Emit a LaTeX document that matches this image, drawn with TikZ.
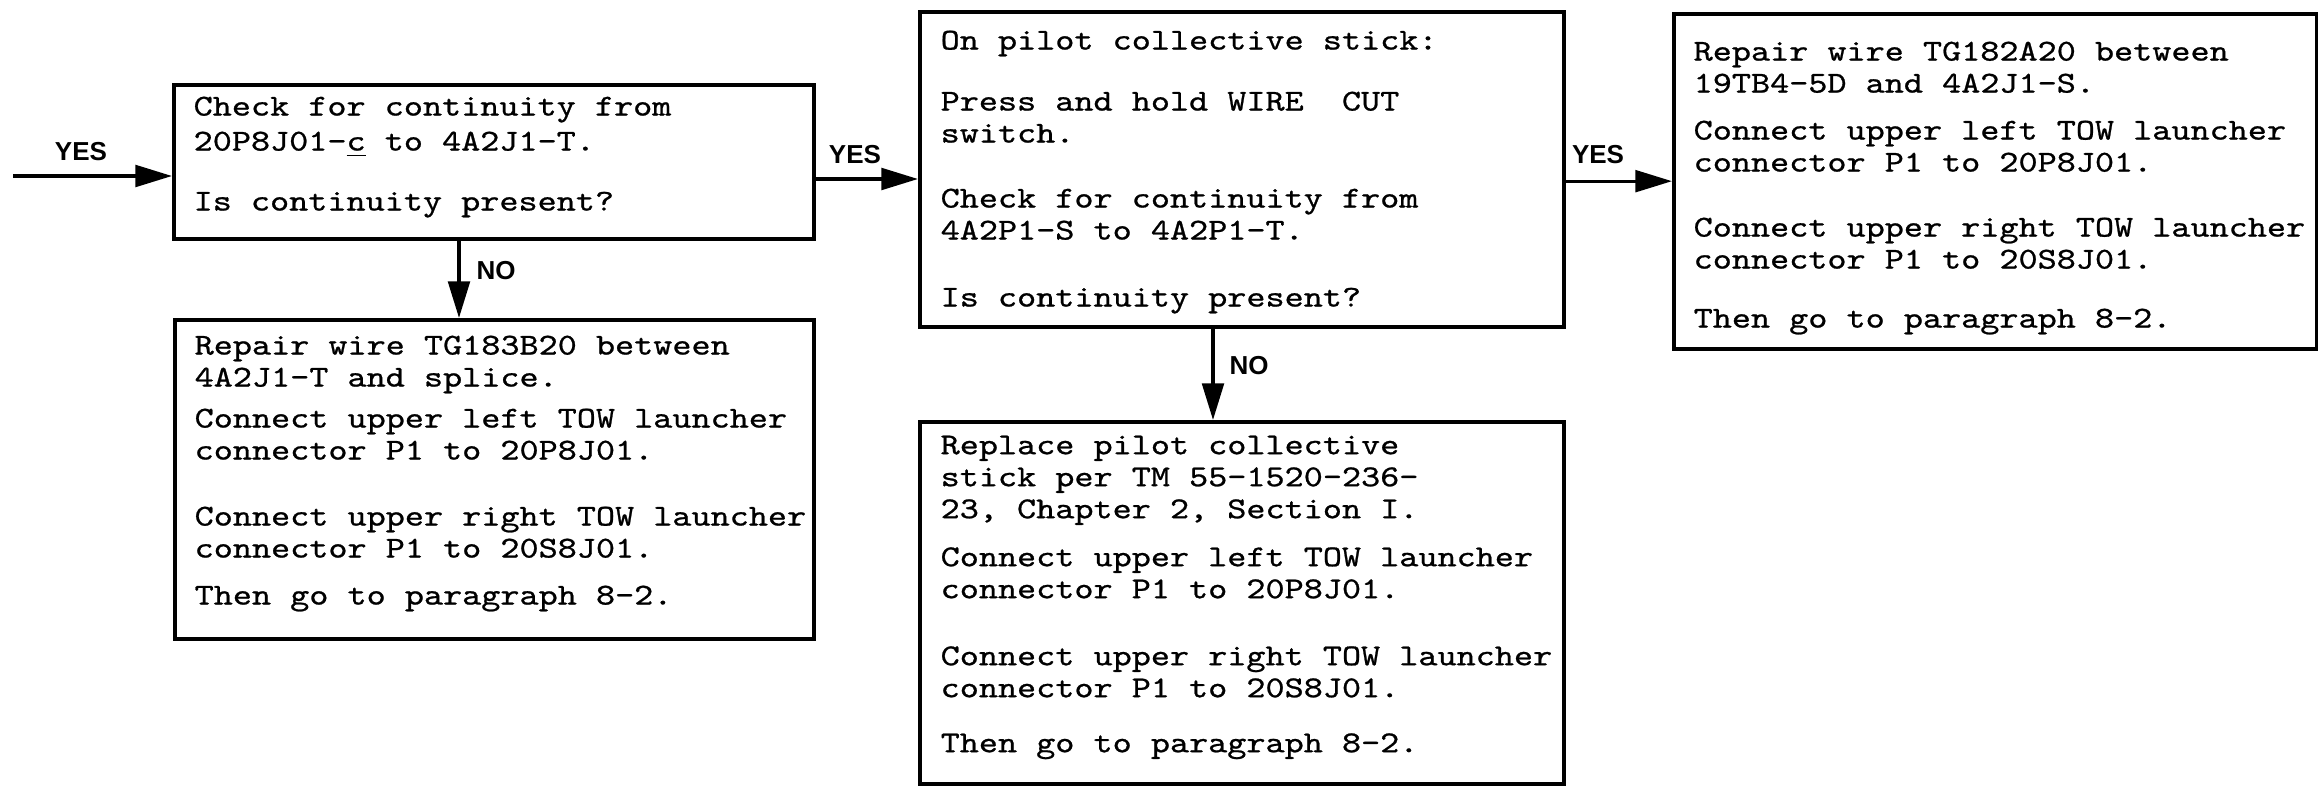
\documentclass[tikz,border=0pt]{standalone}
\usepackage{fontspec}
\setsansfont{Liberation Sans}
\newfontfamily\twfont{lmmono10-regular.otf}[FakeStretch=1.2, FakeBold=0.8]
\usetikzlibrary{arrows.meta}

\tikzset{
  stepbox/.style={draw, line width=1.2pt, inner sep=0pt, anchor=north west},
  steptext/.style={anchor=north west, align=left, inner sep=0pt,
    font=\twfont\fontsize{9.1}{9.6}\selectfont},
  answer/.style={font=\sffamily\bfseries\fontsize{7.8}{9}\selectfont, inner sep=0pt},
  flow/.style={line width=1pt, -{Triangle[length=11pt,width=6.5pt]}},
}

\begin{document}
\begin{tikzpicture}[x=0.3pt, y=-0.3pt]
  \useasboundingbox (0,0) rectangle (2318,787);

  % boxes
  \node[stepbox, minimum width=192pt, minimum height=46.2pt] (contcheck) at (172,83) {};
  \node[stepbox, minimum width=191.7pt, minimum height=95.7pt] (repairsplice) at (173,318) {};
  \node[stepbox, minimum width=193.2pt, minimum height=94.5pt] (cutcheck) at (918,10) {};
  \node[stepbox, minimum width=193.2pt, minimum height=108.6pt] (replacestick) at (918,420) {};
  \node[stepbox, minimum width=192.9pt, minimum height=100.5pt] (repairwire) at (1672,12) {};

  % box texts
  \node[steptext, font=\twfont\fontsize{9.1}{10.5}\selectfont] (contchecktext)
    at ([xshift=6.3pt,yshift=-3.9pt]contcheck.north west)
    {Check for continuity from\\20P8J01-\underline{c} to 4A2J1-T.\\[7.5pt]Is continuity present?};
  \node[steptext] (repairsplicetext) at ([xshift=6.3pt,yshift=-5.1pt]repairsplice.north west)
    {Repair wire TG183B20 between\\4A2J1-T and splice.\\[2.7pt]Connect upper left TOW launcher\\connector P1 to 20P8J01.\\[10.2pt]Connect upper right TOW launcher\\connector P1 to 20S8J01.\\[4.5pt]Then go to paragraph 8-2.};
  \node[steptext] (cutchecktext) at ([xshift=6.6pt,yshift=-6pt]cutcheck.north west)
    {On pilot collective stick:\\[8.7pt]Press and hold WIRE\ \ CUT\\switch.\\[9.9pt]Check for continuity from\\4A2P1-S to 4A2P1-T.\\[10.5pt]Is continuity present?};
  \node[steptext] (replacesticktext) at ([xshift=6.6pt,yshift=-4.5pt]replacestick.north west)
    {Replace pilot collective\\stick per TM 55-1520-236-\\23, Chapter 2, Section I.\\[4.8pt]Connect upper left TOW launcher\\connector P1 to 20P8J01.\\[10.5pt]Connect upper right TOW launcher\\connector P1 to 20S8J01.\\[6.9pt]Then go to paragraph 8-2.};
  \node[steptext] (repairwiretext) at ([xshift=6.3pt,yshift=-8.7pt]repairwire.north west)
    {Repair wire TG182A20 between\\19TB4-5D and 4A2J1-S.\\[4.5pt]Connect upper left TOW launcher\\connector P1 to 20P8J01.\\[9.9pt]Connect upper right TOW launcher\\connector P1 to 20S8J01.\\[8.1pt]Then go to paragraph 8-2.};

  % answers
  \node[answer] (yesin) at (81,152) {YES};
  \node[answer] (yescont) at (855,155) {YES};
  \node[answer] (yescut) at (1598,155) {YES};
  \node[answer] (nocont) at (496,271) {NO};
  \node[answer] (nocut) at (1249,366) {NO};

  % connectors
  \coordinate (entry) at (13,176);
  \draw[flow] (entry) -- (entry -| contcheck.west);
  \draw[flow] ([yshift=-5.1pt]contcheck.east) -- ([yshift=-5.1pt]contcheck.east -| cutcheck.west);
  \draw[flow] ([yshift=-3.5pt]cutcheck.east) -- ([yshift=-3.5pt]cutcheck.east -| repairwire.west);
  \draw[flow] ([xshift=-10.5pt]contcheck.south) -- ([xshift=-10.5pt]contcheck.south |- repairsplice.north);
  \draw[flow] ([xshift=-8.7pt]cutcheck.south) -- ([xshift=-8.7pt]cutcheck.south |- replacestick.north);
\end{tikzpicture}
\end{document}
